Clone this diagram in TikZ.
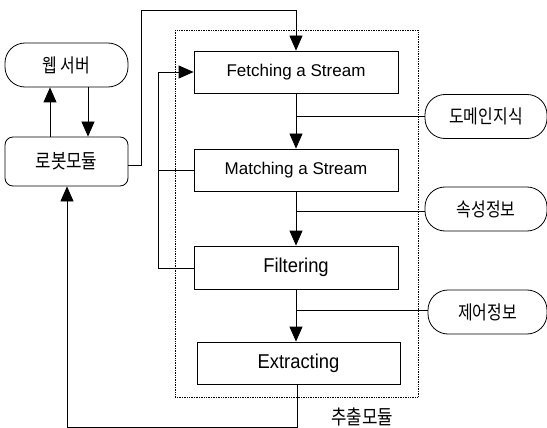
\documentclass[tikz,border=0pt]{standalone}
\usepackage{fontspec}
\setmainfont{Liberation Sans}
\newfontfamily\latinf{Liberation Sans}
\newfontfamily\latinn[FakeStretch=0.92]{Liberation Sans}
\newfontfamily\kor[FakeStretch=0.84]{Noto Sans CJK KR}
\usetikzlibrary{arrows.meta}
\begin{document}
\begin{tikzpicture}[x=1pt,y=-1pt,
  line width=0.8pt,
  tip/.style={-{Triangle[width=13pt,length=15pt]}},
  procbox/.style={draw,rectangle,minimum width=204pt,minimum height=42pt,inner sep=0pt,
    font=\latinf\fontsize{17}{20}\selectfont},
  ovalbox/.style={draw,rounded corners=20pt,minimum width=122pt,minimum height=44pt,inner sep=0pt,
    font=\kor\fontsize{19}{20}\selectfont},
  robotbox/.style={draw,rounded corners=8pt,minimum width=123pt,minimum height=49pt,inner sep=0pt,
    font=\kor\fontsize{20}{22}\selectfont}]
\useasboundingbox (0,0) rectangle (547,428);
% dotted module frame
\draw[densely dotted,line width=0.7pt] (175,30) rectangle (418,397);
% nodes
\node[ovalbox,minimum width=123pt] (web) at (66.5,65) {웹 서버};
\node[robotbox] (robot) at (66.5,161.5) {로봇모듈};
\node[procbox] (fetch) at (296,72) {Fetching a Stream};
\node[procbox] (match) at (296,170) {Matching a Stream};
\node[procbox,minimum height=43pt,font=\latinn\fontsize{20}{22}\selectfont] (filt) at (296,267.5) {Filtering};
\node[procbox,minimum width=203pt,font=\latinn\fontsize{20}{22}\selectfont] (extr) at (298.5,363) {Extracting};
\node[ovalbox] (dom) at (486,116.5) {도메인지식};
\node[ovalbox] (attr) at (486,209) {속성정보};
\node[ovalbox,minimum width=119pt] (ctrl) at (487.5,312) {제어정보};
\node[font=\kor\fontsize{20}{22}\selectfont] (modlabel) at (362,417) {추출모듈};
% web <-> robot
\draw[tip] (robot.north -| 50,0) -- (web.south -| 50,0);
\draw[tip] (web.south -| 88,0) -- (robot.north -| 88,0);
% robot -> fetching
\coordinate (r1) at (141,165);
\coordinate (r2) at (141,10);
\coordinate (r3) at (296,10);
\draw[tip] (robot.east |- r1) -- (r1) -- (r2) -- (r3) -- (fetch.north);
% main chain
\draw[tip] (fetch.south) -- (match.north);
\draw[tip] (match.south) -- (filt.north);
\draw[tip] (filt.south) -- (extr.north -| filt.south);
% side inputs
\draw (dom.west) -- (dom.west -| fetch.south);
\draw (attr.west |- 0,211) -- (match.south |- 0,211);
\draw (ctrl.west |- 0,310) -- (filt.south |- 0,310);
% feedback loop
\coordinate (f1) at (158,268);
\coordinate (f2) at (158,72);
\draw[tip] (filt.west |- f1) -- (f1) -- (f2) -- (fetch.west);
\draw (match.west) -- (match.west -| f1);
% extracting -> robot
\coordinate (e1) at (297,427);
\coordinate (e2) at (67,427);
\draw[tip] (extr.south -| e1) -- (e1) -- (e2) -- (robot.south -| e2);
\end{tikzpicture}
\end{document}
